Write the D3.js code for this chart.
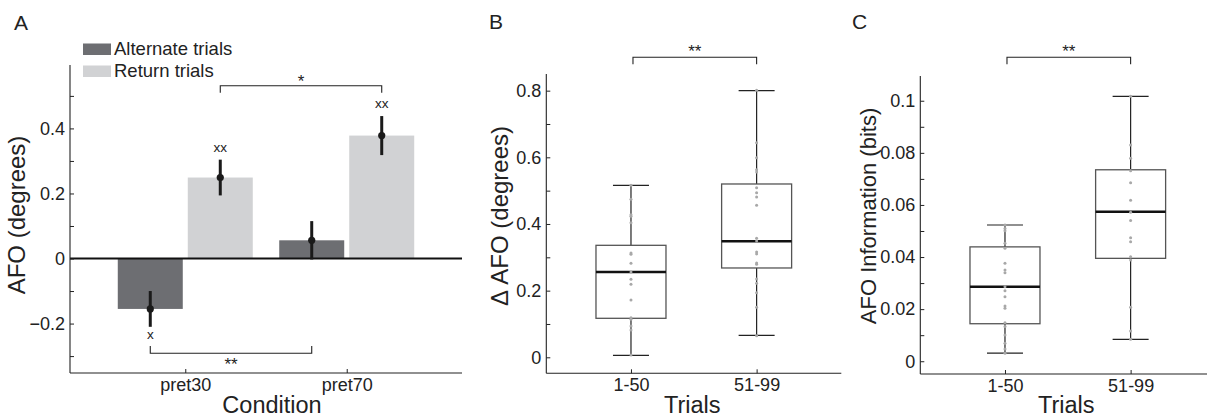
<!DOCTYPE html>
<html><head><meta charset="utf-8">
<script src="https://cdn.jsdelivr.net/npm/d3@7"></script>
<style>
body{margin:0;background:#fff;}
svg{display:block;font-family:"Liberation Sans",Arial,sans-serif;}
text{fill:#222;}
</style></head>
<body><svg id="c" width="1207" height="419"></svg>
<script>
// ---------- DATA ----------
const conditions = ["pret30", "pret70"];
const seriesNames = ["Alternate trials", "Return trials"];
const alternateMean = [-0.155, 0.056];
const alternateErr = [0.055, 0.059];
const returnMean = [0.249, 0.378];
const returnErr = [0.055, 0.06];
const alternateMarks = ["x", ""];
const returnMarks = ["xx", "xx"];
const ticksA = [-0.2, 0, 0.2, 0.4];
const minorA = [-0.3, -0.1, 0.1, 0.3, 0.5];

const trialGroups = ["1-50", "51-99"];
const bQ1 = [0.117, 0.268];
const bMedian = [0.256, 0.348];
const bQ3 = [0.336, 0.520];
const bLow = [0.006, 0.066];
const bHigh = [0.516, 0.800];
const bPoints1 = [0.516, 0.474, 0.428, 0.423, 0.404, 0.313, 0.309, 0.282, 0.256, 0.234, 0.219, 0.172, 0.119, 0.114, 0.094, 0.082, 0.007];
const bPoints2 = [0.801, 0.644, 0.599, 0.563, 0.556, 0.509, 0.494, 0.481, 0.456, 0.357, 0.349, 0.316, 0.310, 0.283, 0.279, 0.235, 0.222, 0.194, 0.150, 0.065];
const ticksB = [0, 0.2, 0.4, 0.6, 0.8];
const minorB = [0.1, 0.3, 0.5, 0.7];

const cQ1 = [0.0144, 0.0395];
const cMedian = [0.0286, 0.0574];
const cQ3 = [0.0439, 0.0735];
const cLow = [0.0031, 0.0084];
const cHigh = [0.0523, 0.1017];
const cPoints1 = [0.0523, 0.0510, 0.0501, 0.0453, 0.0434, 0.0376, 0.0350, 0.0340, 0.0286, 0.0271, 0.0248, 0.0212, 0.0203, 0.0148, 0.0133, 0.0101, 0.0069, 0.0047, 0.0031];
const cPoints2 = [0.1017, 0.0830, 0.0779, 0.0731, 0.0685, 0.0618, 0.0572, 0.0540, 0.0474, 0.0459, 0.0401, 0.0389, 0.0207, 0.0116, 0.0084];
const ticksC = [0, 0.02, 0.04, 0.06, 0.08, 0.1];
const minorC = [0.01, 0.03, 0.05, 0.07, 0.09];

// ---------- DRAW ----------
const svg = d3.select("#c");
svg.append("rect").attr("width",1207).attr("height",419).attr("fill","#fff");
const INK = "#222";
const TICKFS = 18;

function yAxis(g, y, x0, major, minor, fmt) {
  const ax = g.append("g").attr("transform", `translate(${x0},0)`)
    .call(d3.axisLeft(y).tickValues(major).tickSizeInner(-4).tickSizeOuter(0).tickPadding(5).tickFormat(fmt));
  ax.select(".domain").remove();
  ax.selectAll("line").attr("stroke", INK);
  ax.selectAll("text").attr("font-size", TICKFS).attr("fill", INK).attr("font-family", "Liberation Sans, Arial, sans-serif");
  const mn = g.append("g").attr("transform", `translate(${x0},0)`)
    .call(d3.axisLeft(y).tickValues(minor).tickSizeInner(-4).tickSizeOuter(0).tickFormat(""));
  mn.select(".domain").remove();
  mn.selectAll("line").attr("stroke", INK);
  const r = y.range();
  g.append("line").attr("x1", x0).attr("x2", x0).attr("y1", r[0]).attr("y2", r[1]).attr("stroke", INK).attr("stroke-width", 1.1);
}
function xAxis(g, x, y0, xr) {
  const ax = g.append("g").attr("transform", `translate(0,${y0})`)
    .call(d3.axisBottom(x).tickSizeInner(-4).tickSizeOuter(0).tickPadding(5));
  ax.select(".domain").remove();
  ax.selectAll("line").attr("stroke", INK);
  ax.selectAll("text").attr("font-size", TICKFS).attr("fill", INK).attr("font-family", "Liberation Sans, Arial, sans-serif");
  g.append("line").attr("x1", xr[0]).attr("x2", xr[1]).attr("y1", y0).attr("y2", y0).attr("stroke", INK).attr("stroke-width", 1.1);
}
function bracket(g, x1, x2, yTop, yLeg, label, labelY) {
  g.append("path").attr("fill","none").attr("stroke",INK).attr("stroke-width",1.1)
    .attr("d", `M${x1},${yLeg}V${yTop}H${x2}V${yLeg}`);
  g.append("text").attr("x",(x1+x2)/2).attr("y",labelY).attr("text-anchor","middle")
    .attr("font-size",17).text(label);
}

// ===== Panel A =====
const gA = svg.append("g");
const yA = d3.scaleLinear().domain([-0.352, 0.595]).range([373, 65]);
const xA = d3.scalePoint().domain(conditions).range([70, 462]).padding(0.714);
const barW = 65, off = 35;
conditions.forEach((c, i) => {
  const cx = xA(c);
  gA.append("rect").attr("x", cx - off - barW/2).attr("width", barW)
    .attr("y", Math.min(yA(0), yA(alternateMean[i]))).attr("height", Math.abs(yA(0) - yA(alternateMean[i])))
    .attr("fill", "#6d6e72");
  gA.append("rect").attr("x", cx + off - barW/2).attr("width", barW)
    .attr("y", Math.min(yA(0), yA(returnMean[i]))).attr("height", Math.abs(yA(0) - yA(returnMean[i])))
    .attr("fill", "#d1d2d4");
});
gA.append("line").attr("x1",70).attr("x2",462).attr("y1",yA(0)).attr("y2",yA(0)).attr("stroke","#111").attr("stroke-width",2.2);
conditions.forEach((c, i) => {
  const cx = xA(c);
  [[cx - off, alternateMean[i], alternateErr[i]], [cx + off, returnMean[i], returnErr[i]]].forEach(([x, m, e]) => {
    gA.append("line").attr("x1",x).attr("x2",x).attr("y1",yA(m-e)).attr("y2",yA(m+e)).attr("stroke","#1a1a1a").attr("stroke-width",3);
    gA.append("circle").attr("cx",x).attr("cy",yA(m)).attr("r",3.6).attr("fill","#1a1a1a");
  });
  if (returnMarks[i]) gA.append("text").attr("x",cx+off).attr("y",yA(returnMean[i]+returnErr[i])-8).attr("text-anchor","middle").attr("font-size",13.5).text(returnMarks[i]);
  if (alternateMarks[i]) gA.append("text").attr("x",cx-off).attr("y",yA(alternateMean[i]-alternateErr[i])+12).attr("text-anchor","middle").attr("font-size",13.5).text(alternateMarks[i]);
});
yAxis(gA, yA, 70, ticksA, minorA, d3.format(".1~f"));
xAxis(gA, xA, 373, [70, 462]);
bracket(gA, xA("pret30")+off, xA("pret70")+off, 85.7, 92.7, "*", 87);
bracket(gA, xA("pret30")-off, xA("pret70")-off, 353.3, 346, "**", 370);
[["#6d6e72", seriesNames[0], 43.5], ["#d1d2d4", seriesNames[1], 65.5]].forEach(([col, name, y]) => {
  gA.append("rect").attr("x",83).attr("y",y).attr("width",28).attr("height",11.5).attr("fill",col);
  gA.append("text").attr("x",114).attr("y",y+11.5).attr("font-size",18.5).text(name);
});
gA.append("text").attr("x",14).attr("y",30).attr("font-size",21).text("A");
gA.append("text").attr("x",272).attr("y",413).attr("text-anchor","middle").attr("font-size",23.5).text("Condition");
gA.append("text").attr("transform","translate(25,215) rotate(-90)").attr("text-anchor","middle").attr("font-size",24).text("AFO (degrees)");

// ===== Box panels =====
function boxPanel(x0, yScale, q1, med, q3, lo, hi, pts, major, minor, fmt, letter, letterX, ylabel, ylabelX, ylabelFS) {
  const g = svg.append("g");
  const x = d3.scalePoint().domain(trialGroups).range([x0, x0 + 295]).padding(0.674);
  const bw = 70, cap = 18;
  trialGroups.forEach((t, i) => {
    const cx = x(t);
    g.append("line").attr("x1",cx).attr("x2",cx).attr("y1",yScale(lo[i])).attr("y2",yScale(hi[i])).attr("stroke",INK).attr("stroke-width",1.2);
    g.append("line").attr("x1",cx-cap).attr("x2",cx+cap).attr("y1",yScale(lo[i])).attr("y2",yScale(lo[i])).attr("stroke",INK).attr("stroke-width",1.2);
    g.append("line").attr("x1",cx-cap).attr("x2",cx+cap).attr("y1",yScale(hi[i])).attr("y2",yScale(hi[i])).attr("stroke",INK).attr("stroke-width",1.2);
    g.append("rect").attr("x",cx-bw/2).attr("width",bw).attr("y",yScale(q3[i])).attr("height",yScale(q1[i])-yScale(q3[i]))
      .attr("fill","#fff").attr("stroke","#555").attr("stroke-width",1.3);
    g.append("line").attr("x1",cx-bw/2).attr("x2",cx+bw/2).attr("y1",yScale(med[i])).attr("y2",yScale(med[i])).attr("stroke","#111").attr("stroke-width",2.6);
    g.selectAll(null).data(pts[i]).enter().append("circle")
      .attr("cx",cx).attr("cy",d=>yScale(d)).attr("r",1.5).attr("fill","#a8a8a8");
  });
  yAxis(g, yScale, x0, major, minor, fmt);
  xAxis(g, x, yScale.range()[0], [x0, x0 + 295]);
  bracket(g, x(trialGroups[0]) + 2, x(trialGroups[1]), 57.3, 64.3, "**", 57);
  g.append("text").attr("x",letterX).attr("y",28.5).attr("font-size",21).text(letter);
  g.append("text").attr("x",x0 + 146).attr("y",413).attr("text-anchor","middle").attr("font-size",23.5).text("Trials");
  g.append("text").attr("transform",`translate(${ylabelX},216) rotate(-90)`).attr("text-anchor","middle").attr("font-size",ylabelFS).text(ylabel);
}
const yB = d3.scaleLinear().domain([-0.048, 0.85]).range([373.3, 74]);
boxPanel(546.3, yB, bQ1, bMedian, bQ3, bLow, bHigh, [bPoints1, bPoints2], ticksB, minorB,
  d => d === 0 ? "0" : d3.format(".1f")(d), "B", 489, "Δ AFO (degrees)", 508, 24);
const yC = d3.scaleLinear().domain([-0.0049, 0.1095]).range([374, 76]);
boxPanel(920.3, yC, cQ1, cMedian, cQ3, cLow, cHigh, [cPoints1, cPoints2], ticksC, minorC,
  d => d === 0 ? "0" : String(+d.toFixed(2)), "C", 852, "AFO Information (bits)", 876, 22);
</script></body></html>
